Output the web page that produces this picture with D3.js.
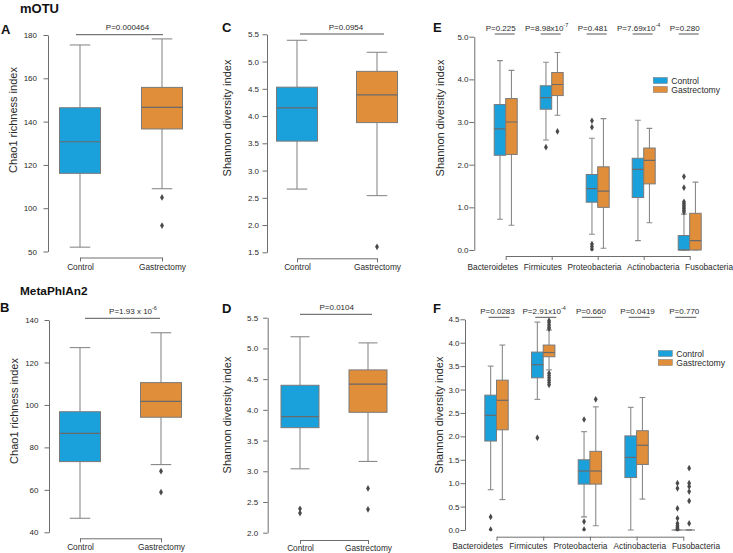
<!DOCTYPE html>
<html><head><meta charset="utf-8">
<script src="https://cdn.jsdelivr.net/npm/d3@7"></script>
<style>body{margin:0;background:#fff}svg{display:block}</style>
</head><body>
<svg id="chart" width="733" height="553"></svg>
<script>
// ---------------- DATA ----------------
const groups = ["Control", "Gastrectomy"];
const phyla = ["Bacteroidetes", "Firmicutes", "Proteobacteria", "Actinobacteria", "Fusobacteria"];
// box stats: [lower whisker, Q1, median, Q3, upper whisker]
const chaoMotu = [[82, 116.1, 130.7, 146.4, 175.4], [109, 136.6, 146.6, 155.8, 178.2]];
const chaoMotuOut = [[], [105, 92]];
const chaoMotuTicks = [80, 100, 120, 140, 160, 180];
const chaoMotuTickLabels = ["50", "100", "120", "140", "160", "180"];
const chaoMotuP = ["P=0.000464", ""];

const shanMotu = [[2.66, 3.54, 4.15, 4.53, 5.39], [2.54, 3.88, 4.39, 4.82, 5.17]];
const shanMotuOut = [[], [1.6]];
const shanMotuTicks = [1.5, 2.0, 2.5, 3.0, 3.5, 4.0, 4.5, 5.0, 5.5];
const shanMotuP = ["P=0.0954", ""];

const chaoMeta = [[46.6, 73.3, 86.6, 96.8, 127], [71.9, 94.2, 101.7, 110.5, 134]];
const chaoMetaOut = [[], [68.8, 58.9]];
const chaoMetaTicks = [40, 60, 80, 100, 120, 140];
const chaoMetaP = ["P=1.93 x 10", "-6"];

const shanMeta = [[3.04, 3.71, 3.89, 4.40, 5.19], [3.16, 3.96, 4.42, 4.65, 5.09]];
const shanMetaOut = [[2.39, 2.32], [2.72, 2.38]];
const shanMetaTicks = [2.0, 2.5, 3.0, 3.5, 4.0, 4.5, 5.0, 5.5];
const shanMetaP = ["P=0.0104", ""];

const phyMotuControl = [[0.72, 2.22, 2.84, 3.41, 4.44], [2.58, 3.30, 3.57, 3.85, 4.40], [0.37, 1.12, 1.44, 1.77, 2.62], [0.22, 1.23, 1.89, 2.15, 3.04], [0, 0, 0, 0.34, 0.84]];
const phyMotuGastr = [[0.58, 2.24, 3.00, 3.55, 4.21], [3.16, 3.62, 3.88, 4.16, 4.63], [0.04, 1.00, 1.38, 1.95, 3.08], [0.64, 1.55, 2.10, 2.39, 2.85], [0, 0, 0.22, 0.86, 1.59]];
const phyMotuControlOut = [[], [2.41], [3.03, 2.88, 0.14, 0.08, 0.02], [], [1.72, 1.46, 1.13, 1.09, 1.05, 1.01, 0.97, 0.93, 0.89]];
const phyMotuGastrOut = [[], [2.78], [], [], []];
const phyMotuTicks = [0, 1, 2, 3, 4, 5];
const phyMotuP = [["P=0.225", ""], ["P=8.98x10", "-7"], ["P=0.481", ""], ["P=7.69x10", "-4"], ["P=0.280", ""]];

const phyMetaControl = [[0.86, 1.90, 2.45, 2.88, 3.50], [2.79, 3.25, 3.53, 3.80, 4.44], [0.28, 0.98, 1.26, 1.50, 2.10], [0.0, 1.12, 1.55, 2.01, 2.62], [0, 0, 0, 0, 0]];
const phyMetaGastr = [[0.65, 2.14, 2.77, 3.20, 3.95], [3.42, 3.70, 3.79, 3.95, 4.27], [0.09, 0.98, 1.26, 1.68, 2.63], [0.66, 1.40, 1.81, 2.12, 2.83], [0, 0, 0, 0, 0]];
const phyMetaControlOut = [[0.28, 0.01], [1.97], [2.36, 0.18, 0.01], [], [1.0, 0.89, 0.46, 0.25, 0.14, 0.09, 0.06, 0.03, 0.01]];
const phyMetaGastrOut = [[], [4.47, 4.43, 4.38, 4.33, 4.30, 3.35, 3.30, 3.25, 3.20, 3.15, 3.10], [2.79], [], [1.32, 1.0, 0.93, 0.82, 0.62, 0.14]];
const phyMetaTicks = [0, 0.5, 1, 1.5, 2, 2.5, 3, 3.5, 4, 4.5];
const phyMetaP = [["P=0.0283", ""], ["P=2.91x10", "-4"], ["P=0.660", ""], ["P=0.0419", ""], ["P=0.770", ""]];

// ---------------- STYLE ----------------
const FONT = "'Liberation Sans', Arial, Helvetica, sans-serif";
const colors = ["#1aa1db", "#e08e3a"];
const AX = "#6e6e6e", TXT = "#2a2a2a", WH = "#8a8a8a", BOXS = "#7a7a7a";

const svg = d3.select("#chart").style("font-family", FONT);
let clipN = 0;

function drawBox(g, y, cx, w, s, out, color) {
  const [lo, q1, md, q3, hi] = s;
  const cap = w / 4;
  g.append("line").attr("x1", cx).attr("x2", cx).attr("y1", y(hi)).attr("y2", y(q3)).attr("stroke", WH).attr("stroke-width", 1.1);
  g.append("line").attr("x1", cx).attr("x2", cx).attr("y1", y(q1)).attr("y2", y(lo)).attr("stroke", WH).attr("stroke-width", 1.1);
  g.append("line").attr("x1", cx - cap).attr("x2", cx + cap).attr("y1", y(hi)).attr("y2", y(hi)).attr("stroke", WH).attr("stroke-width", 1.1);
  g.append("line").attr("x1", cx - cap).attr("x2", cx + cap).attr("y1", y(lo)).attr("y2", y(lo)).attr("stroke", WH).attr("stroke-width", 1.1);
  g.append("rect").attr("x", cx - w / 2).attr("y", y(q3)).attr("width", w).attr("height", Math.max(0, y(q1) - y(q3)))
    .attr("fill", color).attr("stroke", BOXS).attr("stroke-width", 1);
  g.append("line").attr("x1", cx - w / 2).attr("x2", cx + w / 2).attr("y1", y(md)).attr("y2", y(md)).attr("stroke", "#6a6a6a").attr("stroke-width", 1.2);
  g.selectAll(null).data(out).join("path")
    .attr("d", d3.symbol(d3.symbolDiamond, 13))
    .attr("transform", d => `translate(${cx},${y(d)})`)
    .attr("fill", "#4a4a4a");
}

function pText(g, x, yb, parts, fs) {
  const t = g.append("text").attr("x", x).attr("y", yb).attr("text-anchor", "middle")
    .style("font-size", fs + "px").attr("fill", TXT);
  t.append("tspan").text(parts[0]);
  if (parts[1]) t.append("tspan").attr("dy", -3.2).style("font-size", (fs * 0.68) + "px").text(parts[1]);
}

function panel(c) {
  const g = svg.append("g");
  const y = d3.scaleLinear().domain(c.yDomain).range(c.yRange);
  const x = d3.scalePoint().domain(c.cats).range(c.xRange);
  // y axis
  const ya = g.append("g").attr("transform", `translate(${c.axisX},0)`)
    .call(d3.axisLeft(y).tickValues(c.ticks).tickFormat((d, i) => c.tickFmt(d, i))
      .tickSize(c.tickSize).tickSizeOuter(0).tickPadding(c.tickPad));
  ya.select(".domain").attr("stroke", AX);
  ya.selectAll(".tick line").attr("stroke", AX);
  ya.selectAll(".tick text").attr("fill", TXT).style("font-size", "8px").style("font-family", FONT);
  // x axis
  const xfs = 8.3;
  const xa = g.append("g").attr("transform", `translate(0,${c.xAxisY})`)
    .call(d3.axisBottom(x).tickSize(4).tickSizeOuter(0).tickPadding(c.xLabelBase - c.xAxisY - 4 - 0.71 * xfs));
  xa.select(".domain").attr("stroke", AX);
  xa.selectAll(".tick line").attr("stroke", AX);
  xa.selectAll(".tick text").attr("fill", TXT).style("font-size", xfs + "px").style("font-family", FONT);
  if (c.flowStart !== undefined) {
    let cur = c.flowStart;
    xa.selectAll(".tick").each(function (d) {
      const t = d3.select(this).select("text");
      const w = t.node().getComputedTextLength();
      t.attr("text-anchor", "start").attr("x", cur - x(d));
      cur += w + c.flowGap;
    });
  }
  // y title
  g.append("text").attr("transform", `translate(${c.yTitle[0]},${c.yTitle[1]}) rotate(-90)`)
    .attr("text-anchor", "middle").attr("dy", "0.35em").style("font-size", "11px").attr("fill", TXT).text(c.yLabel);
  // panel letter
  g.append("text").attr("x", c.letter[1]).attr("y", c.letter[2]).style("font-size", "13px").style("font-weight", "bold")
    .attr("fill", "#111").text(c.letter[0]);
  return { g, x, y };
}

function groupPanel(c, stats, outs, pParts, pBar, pTxt) {
  const { g, x, y } = panel(c);
  groups.forEach((grp, i) => drawBox(g, y, x(grp), c.boxW, stats[i], outs[i], colors[i]));
  g.append("line").attr("x1", pBar[0]).attr("x2", pBar[1]).attr("y1", pBar[2]).attr("y2", pBar[2]).attr("stroke", "#555").attr("stroke-width", 1);
  pText(g, pTxt[0], pTxt[1], pParts, 8);
}

function phylaPanel(c, ctrl, gas, ctrlOut, gasOut, pList, pBarY, pTxtY, barOff, txtOff, legend) {
  const { g, x, y } = panel(c);
  const clipId = "clip" + (clipN++);
  g.append("clipPath").attr("id", clipId).append("rect")
    .attr("x", c.axisX).attr("y", 0).attr("width", 300).attr("height", y(0) + 1.2);
  const bg = g.append("g").attr("clip-path", `url(#${clipId})`);
  phyla.forEach((p, j) => {
    drawBox(bg, y, x(p) - c.boxW / 2, c.boxW, ctrl[j], ctrlOut[j], colors[0]);
    drawBox(bg, y, x(p) + c.boxW / 2, c.boxW, gas[j], gasOut[j], colors[1]);
    g.append("line").attr("x1", x(p) + barOff[0]).attr("x2", x(p) + barOff[1])
      .attr("y1", pBarY).attr("y2", pBarY).attr("stroke", "#555").attr("stroke-width", 1);
    pText(g, x(p) + txtOff, pTxtY, pList[j], 8);
  });
  // legend
  groups.forEach((grp, i) => {
    const ly = legend[1] + i * 9;
    g.append("rect").attr("x", legend[0]).attr("y", ly).attr("width", 14).attr("height", 6)
      .attr("fill", colors[i]).attr("stroke", "#777").attr("stroke-width", 0.5);
    g.append("text").attr("x", legend[0] + 18).attr("y", ly + 6.3).style("font-size", "8.6px").attr("fill", TXT).text(grp);
  });
}

// Titles
svg.append("text").attr("x", 20).attr("y", 13).style("font-size", "13px").style("font-weight", "bold").attr("fill", "#111").text("mOTU");
svg.append("text").attr("x", 20).attr("y", 295).style("font-size", "11.8px").style("font-weight", "bold").attr("fill", "#111").text("MetaPhlAn2");

const f1 = d3.format(".1f");

// A
groupPanel({
  cats: groups, yDomain: [80, 180], yRange: [251.5, 35], xRange: [80, 162], axisX: 48, xAxisY: 257.5, xLabelBase: 270,
  ticks: chaoMotuTicks, tickFmt: (d, i) => chaoMotuTickLabels[i], tickSize: 4.5, tickPad: 6.5, boxW: 41,
  yLabel: "Chao1 richness index", yTitle: [13, 120], letter: ["A", 1, 34]
}, chaoMotu, chaoMotuOut, chaoMotuP, [76, 163, 34.7], [127.5, 29.5]);

// C
groupPanel({
  cats: groups, yDomain: [1.5, 5.5], yRange: [252.3, 34.3], xRange: [297, 377], axisX: 267, xAxisY: 258.3, xLabelBase: 270,
  ticks: shanMotuTicks, tickFmt: d => f1(d), tickSize: 4.5, tickPad: 3.5, boxW: 41,
  yLabel: "Shannon diversity index", yTitle: [227, 118], letter: ["C", 222, 32]
}, shanMotu, shanMotuOut, shanMotuP, [300, 384, 34], [346, 29.5]);

// B
groupPanel({
  cats: groups, yDomain: [40, 140], yRange: [532.3, 320], xRange: [80, 161], axisX: 49, xAxisY: 538.3, xLabelBase: 550,
  ticks: chaoMetaTicks, tickFmt: d => d, tickSize: 4.5, tickPad: 6, boxW: 41,
  yLabel: "Chao1 richness index", yTitle: [14, 411], letter: ["B", 0, 312]
}, chaoMeta, chaoMetaOut, chaoMetaP, [85, 160, 318.3], [133, 313.5]);

// D
groupPanel({
  cats: groups, yDomain: [2.0, 5.5], yRange: [532.7, 317.7], xRange: [300, 368], axisX: 267.7, xAxisY: 540, xLabelBase: 551,
  ticks: shanMetaTicks, tickFmt: d => f1(d), tickSize: 4.5, tickPad: 5, boxW: 38,
  yLabel: "Shannon diversity index", yTitle: [227, 415], letter: ["D", 222, 313]
}, shanMeta, shanMetaOut, shanMetaP, [300, 372, 314.3], [336.7, 310]);

// E
phylaPanel({
  cats: phyla, yDomain: [0, 5], yRange: [250, 36.7], xRange: [505.7, 689.7], axisX: 474.3, xAxisY: 256, xLabelBase: 270,
  ticks: phyMotuTicks, tickFmt: d => f1(d), tickSize: 5, tickPad: 0.8, boxW: 11.5,
  flowStart: 467, flowGap: 5.5,
  yLabel: "Shannon diversity index", yTitle: [440, 118], letter: ["E", 433, 32]
}, phyMotuControl, phyMotuGastr, phyMotuControlOut, phyMotuGastrOut, phyMotuP, 34, 30.5, [-11, 9], -5, [653.3, 77.5]);

// F
phylaPanel({
  cats: phyla, yDomain: [0, 4.5], yRange: [530, 319.3], xRange: [496.5, 683.3], axisX: 465, xAxisY: 536.7, xLabelBase: 549,
  ticks: phyMetaTicks, tickFmt: d => f1(d), tickSize: 4.5, tickPad: 1, boxW: 11.7,
  flowStart: 452, flowGap: 6,
  yLabel: "Shannon diversity index", yTitle: [439, 415], letter: ["F", 433, 313]
}, phyMetaControl, phyMetaGastr, phyMetaControlOut, phyMetaGastrOut, phyMetaP, 317.3, 313.5, [-8, 13], 1, [658.3, 350.5]);
</script>
</body></html>
